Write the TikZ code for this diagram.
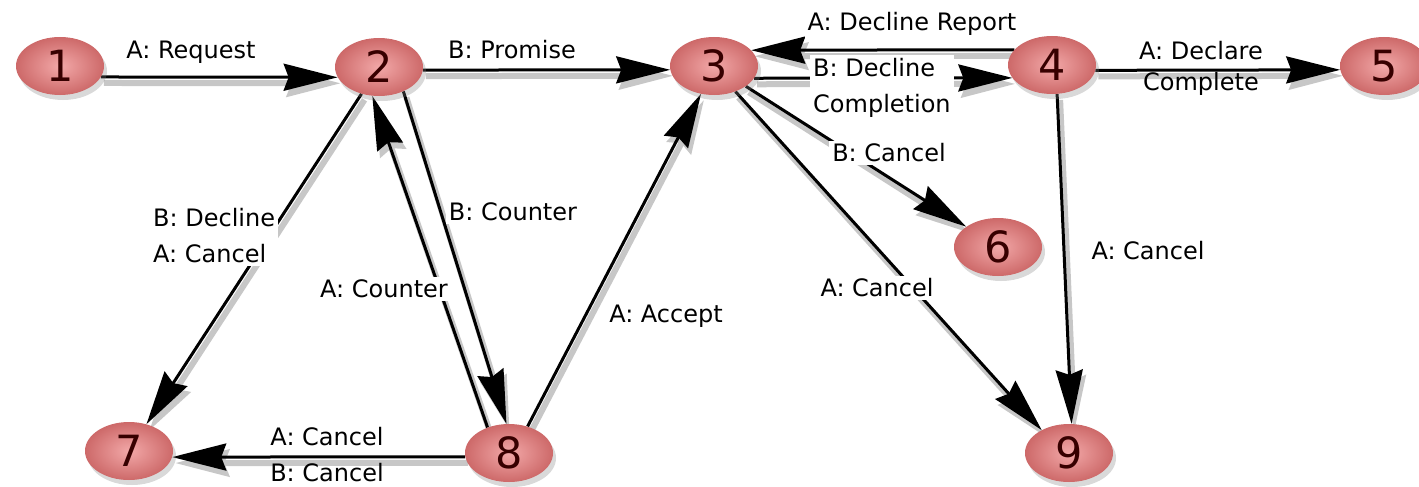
\documentclass[tikz,border=0pt]{standalone}
\usepackage{fontspec}
\setmainfont{DejaVu Sans}
\usetikzlibrary{arrows.meta,shapes.geometric,shadows}
\definecolor{nodein}{RGB}{242,168,168}
\definecolor{nodeout}{RGB}{205,105,105}
\definecolor{numcol}{RGB}{55,0,0}
\pgfdeclarelayer{bg}
\pgfsetlayers{bg,main}
\tikzset{
 state/.style={ellipse, minimum width=88pt, minimum height=58pt, inner sep=0pt,
   shading=radial, inner color=nodein, outer color=nodeout, text=numcol,
   font=\fontsize{43}{43}\selectfont,
   drop shadow={shadow xshift=3pt, shadow yshift=-5pt, opacity=0.3}},
 edge/.style={line width=3pt, draw=black,
   -{Stealth[length=54pt,width=27pt,inset=5pt]},
   preaction={draw=black!22, line width=6pt, transform canvas={shift={(3pt,-6pt)}}}},
 lbl/.style={fill=white, inner sep=3pt, font=\fontsize{24}{36}\selectfont, align=left},
 lblclear/.style={inner sep=3pt, font=\fontsize{24}{31}\selectfont, align=center},
}
\begin{document}
\begin{tikzpicture}[x=1pt,y=-1pt]
\useasboundingbox (0,0) rectangle (1419,487);
% states
\node[state] (n1) at (60,66) {1};
\node[state] (n2) at (379,67) {2};
\node[state] (n3) at (714,66) {3};
\node[state] (n4) at (1052,65) {4};
\node[state] (n5) at (1384,66) {5};
\node[state] (n6) at (998,247) {6};
\node[state] (n7) at (129,451) {7};
\node[state] (n8) at (509,453) {8};
\node[state] (n9) at (1069,453) {9};
% transitions
\begin{pgfonlayer}{bg}
\draw[edge] (n1.-15) -- (n2.194);
\draw[edge] (n2.-4) -- (n3.185);
\draw[edge] (n4.158) -- (n3.23);
\draw[edge] (n3.-17) -- (n4.198);
\draw[edge] (n4.-7) -- (n5.185);
\draw[edge] (n3) -- (n6);
\draw[edge] (n3.-50) -- (n9.140);
\draw[edge] (n4.-80) -- (n9.85);
\draw[edge] (n2) -- (n7);
\draw[edge] (n2.-45) -- (n8.95);
\draw[edge] (n8.130) -- (n2.-103);
\draw[edge] (n8.55) -- (n3.-115);
\draw[edge] (n8.185) -- (n7.-8);
\end{pgfonlayer}
% labels
\node[lbl] (l12) at (191,52) {A: Request};
\node[lbl] (l23) at (512,50) {B: Promise};
\node[lbl] (l43) at (912,24) {A: Decline Report};
\node[lbl, anchor=west] (l34) at (810,88) {B: Decline\\Completion};
\node[lblclear] (l45) at (1201,68) {A: Declare\\Complete};
\node[lbl] (l36) at (889,153) {B: Cancel};
\node[lbl] (l39) at (877,288) {A: Cancel};
\node[lbl] (l49) at (1148,251) {A: Cancel};
\node[lbl, anchor=west] (l27) at (150,236) {B: Decline\\A: Cancel};
\node[lbl] (l28) at (513,212) {B: Counter};
\node[lbl] (l82) at (384,289) {A: Counter};
\node[lbl] (l83) at (666,316) {A: Accept};
\node[lblclear, font=\fontsize{24}{36}\selectfont] (l87) at (327,455) {A: Cancel\\B: Cancel};
\end{tikzpicture}
\end{document}
